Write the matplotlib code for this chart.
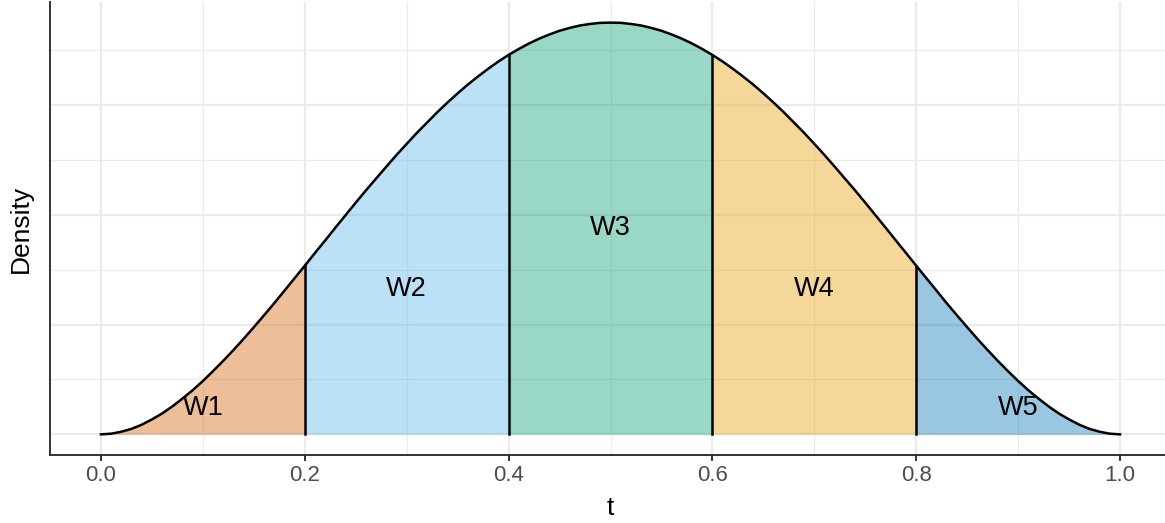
import numpy as np
import matplotlib.pyplot as plt

plt.rcParams['font.family'] = ['Liberation Sans', 'DejaVu Sans']

# density values at t = 0.00, 0.01, ..., 0.50 (curve is symmetric)
t = np.linspace(0, 1, 101)
half = [0.0, 0.003, 0.012, 0.025, 0.044, 0.068, 0.095, 0.127, 0.163, 0.201,
        0.243, 0.288, 0.335, 0.384, 0.435, 0.488, 0.542, 0.597, 0.654, 0.711,
        0.768, 0.826, 0.883, 0.941, 0.998, 1.055, 1.111, 1.165, 1.219, 1.272,
        1.323, 1.373, 1.420, 1.467, 1.511, 1.553, 1.593, 1.630, 1.665, 1.698,
        1.728, 1.755, 1.780, 1.802, 1.821, 1.838, 1.851, 1.862, 1.869, 1.874,
        1.875]
dens = np.array(half + half[-2::-1])

breaks = [0.0, 0.2, 0.4, 0.6, 0.8, 1.0]
labels = ["W1", "W2", "W3", "W4", "W5"]
label_x = [0.1, 0.3, 0.5, 0.7, 0.9]
label_y = [0.12, 0.66, 0.94, 0.66, 0.12]
colors = ["#D55E00", "#56B4E9", "#009E73", "#E69F00", "#0072B2"]

fig = plt.figure(figsize=(11.65, 5.23), dpi=100)
ax = fig.add_axes([50 / 1165, 68 / 523, 1121 / 1165, 453 / 523])

for i in range(5):
    m = (t >= breaks[i] - 1e-9) & (t <= breaks[i + 1] + 1e-9)
    ax.fill_between(t[m], 0, dens[m], color=colors[i], alpha=0.4, lw=0, zorder=2)
    ax.text(label_x[i], label_y[i], labels[i], ha="center", va="center",
            fontsize=19.5, color="black", zorder=5)

for b in breaks[1:-1]:
    k = int(round(b * 100))
    ax.plot([b, b], [0, dens[k]], color="black", lw=1.8, zorder=3)

ax.plot(t, dens, color="black", lw=1.8, zorder=4)

ax.set_xlim(-0.05, 1.05)
ax.set_ylim(-0.094, 1.969)
ax.set_xticks(breaks)
ax.set_xticklabels(["0.0", "0.2", "0.4", "0.6", "0.8", "1.0"])
ax.set_xticks([0.1, 0.3, 0.5, 0.7, 0.9], minor=True)
ax.set_yticks([0, 0.5, 1.0, 1.5])
ax.set_yticks([0.25, 0.75, 1.25, 1.75], minor=True)
ax.set_yticklabels([])
ax.tick_params(axis="y", which="both", length=0)
ax.tick_params(axis="x", which="minor", length=0)
ax.tick_params(axis="x", which="major", length=4.5, width=1.4, color="#333333",
               labelsize=16, labelcolor="#4D4D4D", pad=3)

ax.grid(True, which="major", color="#EBEBEB", lw=1.6, zorder=0)
ax.grid(True, which="minor", color="#EBEBEB", lw=0.8, zorder=0)
ax.set_axisbelow(True)

for s in ["top", "right"]:
    ax.spines[s].set_visible(False)
for s in ["left", "bottom"]:
    ax.spines[s].set_color("#333333")
    ax.spines[s].set_linewidth(1.4)

ax.set_xlabel("t", fontsize=19, labelpad=7)
ax.set_ylabel("Density", fontsize=19, labelpad=9)

fig.savefig("out.png", dpi=100)
